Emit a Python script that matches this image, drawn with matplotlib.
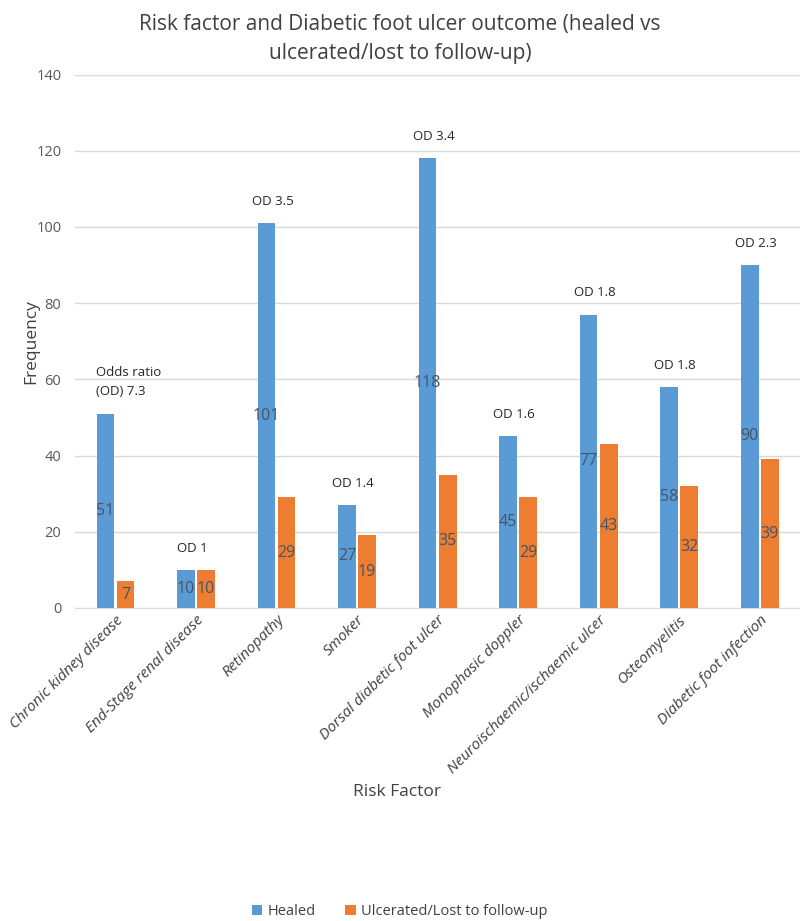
import numpy as np
import matplotlib.pyplot as plt

# risk factors and outcomes
factors = ['Chronic kidney disease', 'End-Stage renal disease', 'Retinopathy', 'Smoker',
           'Dorsal diabetic foot ulcer', 'Monophasic doppler', 'Neuroischaemic/ischaemic ulcer',
           'Osteomyelitis', 'Diabetic foot infection']
healed = [51, 10, 101, 27, 118, 45, 77, 58, 90]
ulcerated = [7, 10, 29, 19, 35, 29, 43, 32, 39]
odds = ['Odds ratio\n(OD) 7.3', 'OD 1', 'OD 3.5', 'OD 1.4', 'OD 3.4', 'OD 1.6', 'OD 1.8', 'OD 1.8', 'OD 2.3']

plt.rcParams['font.family'] = ['Open Sans', 'DejaVu Sans']

fig = plt.figure(figsize=(8, 9.21), dpi=100)
ax = fig.add_axes([0.094, 0.340, 0.906, 0.579])

x = np.arange(len(factors))
w = 0.22
off = 0.125
ax.bar(x - off, healed, w, color='#5B9BD5', label='Healed', zorder=3)
ax.bar(x + off, ulcerated, w, color='#ED7D31', label='Ulcerated/Lost to follow-up', zorder=3)

for i in range(len(x)):
    # counts in the middle of the bars
    ax.text(x[i] - off, healed[i] / 2, str(healed[i]), ha='center', va='center',
            fontsize=11.5, color='#44546A', zorder=4)
    ax.text(x[i] + off, ulcerated[i] / 2, str(ulcerated[i]), ha='center', va='center',
            fontsize=11.5, color='#44546A', zorder=4)
    # odds ratio notes
    if i == 0:
        ax.text(x[i] - off - 0.12, healed[i] + 4, odds[i], ha='left', va='bottom',
                fontsize=9.5, color='#262626', linespacing=1.6)
    else:
        ax.text(x[i] - 0.05, healed[i] + 4, odds[i], ha='center', va='bottom',
                fontsize=9.5, color='#262626')

ax.set_xlim(-0.5, len(x) - 0.5)
ax.set_ylim(0, 140)
ax.set_yticks(range(0, 141, 20))
ax.yaxis.grid(True, color='#D9D9D9', linewidth=1, zorder=0)
ax.set_axisbelow(True)
for s in ['top', 'right', 'left']:
    ax.spines[s].set_visible(False)
ax.spines['bottom'].set_color('#D9D9D9')
ax.tick_params(axis='both', length=0, colors='#595959', labelsize=10.5)
ax.tick_params(axis='y', pad=10)
ax.set_xticks(x)
ax.set_xticklabels(factors, rotation=45, ha='right', rotation_mode='anchor',
                   fontstyle='italic', fontsize=11, color='#404040')

ax.set_ylabel('Frequency', fontsize=12.5, color='#404040', labelpad=-2)
ax.set_xlabel('Risk Factor', fontsize=12.5, color='#404040')
ax.xaxis.set_label_coords(0.444, -0.33)
fig.suptitle('Risk factor and Diabetic foot ulcer outcome (healed vs\nulcerated/lost to follow-up)',
             fontsize=15, color='#404040', y=0.985, linespacing=1.5)

fig.legend(loc='lower center', bbox_to_anchor=(0.5, -0.012), ncol=2, frameon=False,
           fontsize=10.5, handlelength=0.7, handleheight=0.7, columnspacing=2.0,
           handletextpad=0.4, labelcolor='#404040')

fig.savefig('out.png', dpi=100)
